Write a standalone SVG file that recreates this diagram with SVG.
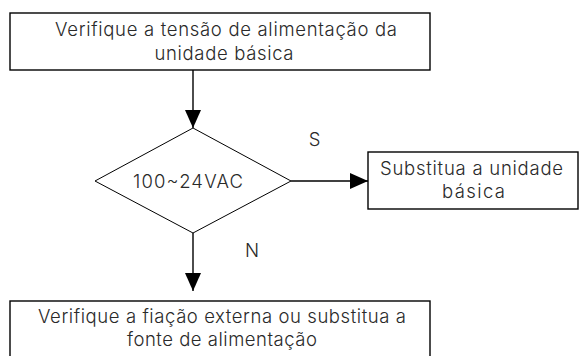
<svg xmlns="http://www.w3.org/2000/svg" width="580" height="356" viewBox="0 0 580 356">
<defs>
<style>
.box{fill:#fff;stroke:#000;stroke-width:1.4}
.dia{fill:#fff;stroke:#000;stroke-width:1}
.t{font-family:Inter,"Liberation Sans",Arial,sans-serif;font-weight:300;font-size:18.5px;fill:#2a2a2a;text-anchor:middle}
.c{stroke:#000;stroke-width:1.4;fill:none}
</style>
<marker id="a" markerWidth="18" markerHeight="16" refX="18" refY="8" orient="auto" markerUnits="userSpaceOnUse" viewBox="0 0 18 16">
<path d="M0,0 L18,8 L0,16 Z" fill="#000"/>
</marker>
</defs>
<g id="connectors">
<line class="c" x1="193" y1="70" x2="193" y2="128" marker-end="url(#a)"/>
<line class="c" x1="291" y1="181" x2="368" y2="181" marker-end="url(#a)"/>
<line class="c" x1="193" y1="233" x2="193" y2="291" marker-end="url(#a)"/>
<text class="t" x="314.5" y="146">S</text>
<text class="t" x="252" y="257">N</text>
</g>
<g id="n1">
<rect class="box" x="10" y="13" width="420" height="57"/>
<text class="t" x="226" y="36" textLength="342" lengthAdjust="spacing">Verifique a tensão de alimentação da</text>
<text class="t" x="224" y="60" textLength="139" lengthAdjust="spacing">unidade básica</text>
</g>
<g id="n2">
<polygon class="dia" points="193,128 291,181 193,233 95,181"/>
<text class="t" x="188" y="188" textLength="110" lengthAdjust="spacing">100~24VAC</text>
</g>
<g id="n3">
<rect class="box" x="368" y="152" width="210" height="57"/>
<text class="t" x="471.5" y="175" textLength="183" lengthAdjust="spacing">Substitua a unidade</text>
<text class="t" x="473.5" y="198" textLength="63" lengthAdjust="spacing">básica</text>
</g>
<g id="n4">
<rect class="box" x="10" y="301" width="420" height="60"/>
<text class="t" x="222" y="323" textLength="368" lengthAdjust="spacing">Verifique a fiação externa ou substitua a</text>
<text class="t" x="222" y="346" textLength="190" lengthAdjust="spacing">fonte de alimentação</text>
</g>
</svg>
